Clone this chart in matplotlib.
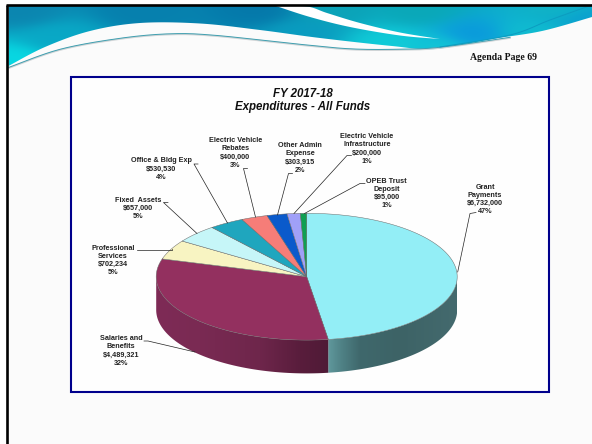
#%% FY 2017-18 expenditures slide with an oval 3D pie
import numpy as np
from matplotlib import pyplot as plt
from matplotlib.patches import Polygon, Rectangle

#%% data
names = ['Grant\nPayments', 'Salaries and\nBenefits', 'Professional\nServices', 'Fixed  Assets',
         'Office & Bldg Exp', 'Electric Vehicle\nRebates', 'Other Admin\nExpense',
         'Electric Vehicle\nInfrastructure', 'OPEB Trust\nDeposit']
amounts = [6732000, 4489321, 702234, 657000, 530530, 400000, 303915, 200000, 95000]
percents = [47, 32, 5, 5, 4, 3, 2, 1, 1]
colors = ['#93eef6', '#93305f', '#f8f4c2', '#c6f6f8', '#1fa6be',
          '#f67d78', '#0a5acb', '#a0a0f8', '#0f9f52']

# label block centres and leader polylines, in pixels
label_pos = [(485, 199.5), (121, 351), (112.7, 260.7), (138.3, 208.7), (161, 169),
             (235.3, 153), (300, 158), (367, 149), (386.7, 193.3)]
leaders = [[(476, 212.5), (470, 213.5), (457.7, 272)],
           [(144, 341), (148, 341), (195, 352)],
           [(137, 250), (172, 250), (172, 249)],
           [(168, 202.5), (163.5, 202.5), (197, 233.5)],
           [(198, 164), (194, 164), (227.5, 223)],
           [(247.5, 168.5), (243.5, 168.5), (255.5, 217)],
           [(292.5, 173.5), (288.5, 173.5), (277.5, 215)],
           [(351.5, 155.5), (347, 155.5), (294, 213.5)],
           [(365, 183.5), (360, 183.5), (304.5, 213.5)]]

cx, cy, rx, ry, depth = 306.7, 276.7, 150.5, 63.4, 33.3
W, H = 592, 444

#%% helpers
def smooth(pts, n=24):
    # catmull-rom through the given points
    pts = np.array([pts[0]] + list(pts) + [pts[-1]], dtype=float)
    out = []
    for i in range(1, len(pts) - 2):
        p0, p1, p2, p3 = pts[i - 1], pts[i], pts[i + 1], pts[i + 2]
        for t in np.linspace(0, 1, n, endpoint=False):
            out.append(0.5 * (2 * p1 + (p2 - p0) * t + (2 * p0 - 5 * p1 + 4 * p2 - p3) * t**2
                              + (3 * p1 - p0 - 3 * p2 + p3) * t**3))
    out.append(pts[-2])
    return np.array(out)

def oval(theta):
    # theta runs clockwise from twelve o'clock
    return np.c_[cx + rx * np.sin(theta), cy - ry * np.cos(theta)]

def hex_rgb(c):
    return np.array([int(c[i:i + 2], 16) for i in (1, 3, 5)]) / 255

#%% canvas
fig = plt.figure(figsize=(W / 100, H / 100), dpi=100)
ax = fig.add_axes([0, 0, 1, 1])
ax.axis('off')
ax.add_patch(Rectangle((0, 0), W, H, fc='white', ec='none', zorder=0))
ax.add_patch(Rectangle((8, 6), W, H, fc='#fbfbfb', ec='none', zorder=0))

#%% header swoosh, colour blended between a few anchors
anchors = [(20, 10, '#0c86b0'), (12, 60, '#08d8e2'), (60, 38, '#09a8c6'), (140, 10, '#0680ae'),
           (260, 10, '#0578aa'), (300, 32, '#0a9cc0'), (390, 42, '#10ccd8'), (330, 8, '#0ca4b8'),
           (420, 10, '#0aa8b8'), (470, 34, '#0a98dc'), (440, 46, '#12c6d6'),
           (560, 8, '#10b4c6'), (585, 18, '#0aa0d0'), (530, 32, '#10bcd0')]
gx, gy = np.meshgrid(np.arange(W), np.arange(80))
grad = np.zeros((80, W, 3))
weight = np.zeros((80, W))
for a_x, a_y, col in anchors:
    d = 1 / (((gx - a_x) / 2.5)**2 + (gy - a_y)**2 + 120)**2
    grad += d[..., None] * hex_rgb(col)
    weight += d
grad /= weight[..., None]

lower = smooth([(8.5, 66), (45, 47), (90, 31), (140, 23), (200, 23.5), (260, 30), (320, 38),
                (392, 46), (435, 49), (492, 39), (542, 31), (592, 17)])
outline = np.vstack([[(8.5, 6)], lower, [(592, 6)]])
img = ax.imshow(grad, extent=(0, W, 80, 0), aspect='auto', zorder=1)
img.set_clip_path(Polygon(outline, transform=ax.transData))

# white ribbon across the top right of the band
rib_top = smooth([(276, 6), (307, 6.5), (327, 13), (360, 23), (400, 32.5), (440, 39)])
rib_bot = smooth([(276, 6), (310, 17), (350, 27), (400, 35.5), (440, 39)])
ax.add_patch(Polygon(np.vstack([rib_top, rib_bot[::-1]]), fc='white', ec='none', zorder=2))

# thin lines under the band
line1 = smooth([(9, 68), (60, 50), (120, 39), (170, 34.5), (215, 36), (300, 45), (350, 49.5),
                (395, 50), (440, 48), (510, 38)])
ax.plot(*line1.T, color='#cfd4d6', lw=1.2, zorder=2)
ax.plot(line1[:, 0], line1[:, 1] - 0.7, color='#3f9fb0', lw=0.7, zorder=2)
streak = smooth([(440, 47), (510, 35), (550, 20), (592, 5)])
ax.plot(*streak.T, color='#0c9cc0', lw=0.7, zorder=2)

# black edge on the left and top
ax.plot([7.3, 7.3], [H, 4.7], color='black', lw=1.9, solid_capstyle='butt', zorder=3)
ax.plot([6.3, W], [4.7, 4.7], color='black', lw=1.9, solid_capstyle='butt', zorder=3)

ax.text(504, 57, 'Agenda Page 69', family='Liberation Serif', weight='bold', fontsize=7.0,
        color='#111111', ha='center', va='center', zorder=4)

#%% chart frame
ax.add_patch(Rectangle((71, 77.3), 477.5, 315, fc='#fefefe', ec='#00008c', lw=1.5, zorder=3))
ax.text(302.7, 100.5, 'FY 2017-18\nExpenditures - All Funds', family='Liberation Sans',
        weight='bold', style='italic', fontsize=8.3, ha='center', va='center',
        linespacing=1.15, color='#111111', zorder=5)

#%% pie, angles come from the amounts
fracs = np.array(amounts) / sum(amounts)
edges = np.r_[0, np.cumsum(fracs)] * 2 * np.pi

# side wall, a horizontal gradient clipped to each visible slice
wall_stops = {0: ([329, 342, 360, 400, 458], ['#5f979b', '#4f8185', '#3f686c', '#3d6366', '#446a6e']),
              1: ([157, 200, 260, 300, 329], ['#7e2b56', '#7a2a53', '#6e264b', '#591d3c', '#4f1a36'])}
for i, (xp, cols) in wall_stops.items():
    th = np.linspace(edges[i], edges[i + 1], 300)
    th = th[(th > np.pi / 2) & (th < 3 * np.pi / 2)]
    top = oval(th)
    rgb = np.array([hex_rgb(c) for c in cols])
    xs = np.linspace(top[:, 0].min(), top[:, 0].max(), 200)
    strip = np.stack([np.interp(xs, xp, rgb[:, k]) for k in range(3)], axis=-1)[None, :, :]
    wall = ax.imshow(strip, extent=(xs[0], xs[-1], cy + ry + depth + 1, cy - ry),
                     aspect='auto', zorder=6)
    wall.set_clip_path(Polygon(np.vstack([top, top[::-1] + (0, depth)]), transform=ax.transData))

# top surface
for i, col in enumerate(colors):
    th = np.linspace(edges[i], edges[i + 1], 200)
    ax.add_patch(Polygon(np.vstack([[(cx, cy)], oval(th)]), fc=col, ec='#6a6a6a', lw=0.35,
                         joinstyle='round', zorder=7))

#%% labels and leaders
for name, amt, pct, (lx, ly), leg in zip(names, amounts, percents, label_pos, leaders):
    ax.text(lx, ly, f'{name}\n${amt:,}\n{pct}%', family='Liberation Sans', weight='bold',
            fontsize=5.25, ha='center', va='center', linespacing=1.22, color='#222222', zorder=8)
    ax.plot(*zip(*leg), color='#222222', lw=0.5, zorder=8)

ax.set_xlim(0, W)
ax.set_ylim(H, 0)
fig.savefig('out.png', dpi=100)
